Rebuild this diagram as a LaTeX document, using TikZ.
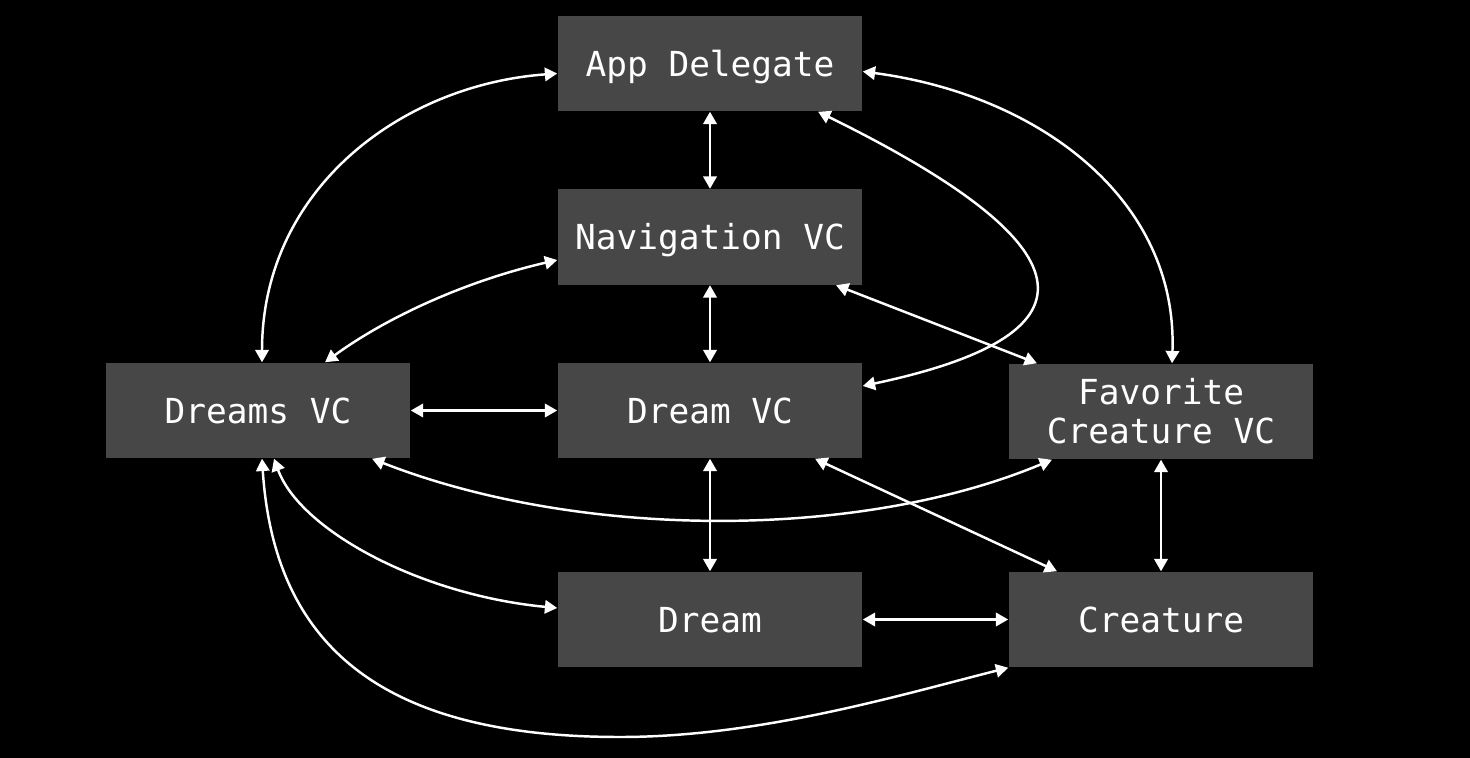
\documentclass[tikz,border=0pt]{standalone}
\usepackage{fontspec}
\setmonofont{DejaVu Sans Mono}
\usetikzlibrary{arrows.meta}
\definecolor{boxgrey}{HTML}{474747}
\tikzset{
  box/.style = {fill = boxgrey, text = white, minimum width = 3.04cm, minimum height = 0.95cm,
    inner sep = 0pt, align = center, text height = 7.2pt, text depth = 0pt,
    font = \ttfamily\fontsize{9.8pt}{11.1pt}\selectfont},
  link/.style = {draw = white, line width = 0.7pt,
    {Triangle[length=3.5pt,width=3.8pt]}-{Triangle[length=3.5pt,width=3.8pt]}}
}
\begin{document}
\begin{tikzpicture}[x = 0.01cm, y = -0.01cm]
\fill[black] (0, 0) rectangle (1470, 758);
% boxes
\node[box] (app) at (710, 63.5) {App Delegate};
\node[box] (nav) at (710, 237) {Navigation VC};
\node[box] (dreams) at (258, 410.5) {Dreams VC};
\node[box] (dreamvc) at (710, 410.5) {Dream VC};
\node[box, text height = {}, text depth = {}] (fav) at (1161, 411.5) {Favorite\\Creature VC};
\node[box] (dream) at (710, 619.5) {Dream};
\node[box] (creature) at (1161, 619.5) {Creature};
% straight links
\draw[link] (app) -- (nav);
\draw[link] (nav) -- (dreamvc);
\draw[link] (dreamvc) -- (dream);
\draw[link] (dreams) -- (dreamvc);
\draw[link] (dream) -- (creature);
\draw[link] (fav) -- (creature);
\draw[link] ([xshift = 1.26cm]nav.south) -- ([xshift = -1.24cm]fav.north);
\draw[link] ([xshift = 1.05cm]dreamvc.south) -- ([xshift = -1.04cm]creature.north);
% curved links
\draw[link] ([yshift = -0.1cm]app.west) .. controls (400, 85) and (262, 190) .. ([xshift = 0.04cm]dreams.north);
\draw[link] ([yshift = -0.08cm]app.east) .. controls (1040, 95) and (1178, 200) .. ([xshift = 0.11cm]fav.north);
\draw[link] ([yshift = -0.23cm]nav.west) .. controls (470, 280) and (390, 315) .. ([xshift = 0.67cm]dreams.north);
\draw[link] ([xshift = 1.08cm]app.south) .. controls (1120, 260) and (1080, 340) .. ([yshift = 0.245cm]dreamvc.east);
\draw[link] ([xshift = 1.14cm]dreams.south) .. controls (580, 540) and (860, 540) .. ([xshift = -1.09cm]fav.south);
\draw[link] ([xshift = 0.16cm]dreams.south) .. controls (300, 530) and (420, 595) .. ([yshift = 0.115cm]dream.west);
\draw[link] ([xshift = 0.04cm]dreams.south) .. controls (275, 660) and (400, 737) .. (620, 737)
  .. controls (760, 737) and (900, 695) .. (creature.south west);
\end{tikzpicture}
\end{document}
